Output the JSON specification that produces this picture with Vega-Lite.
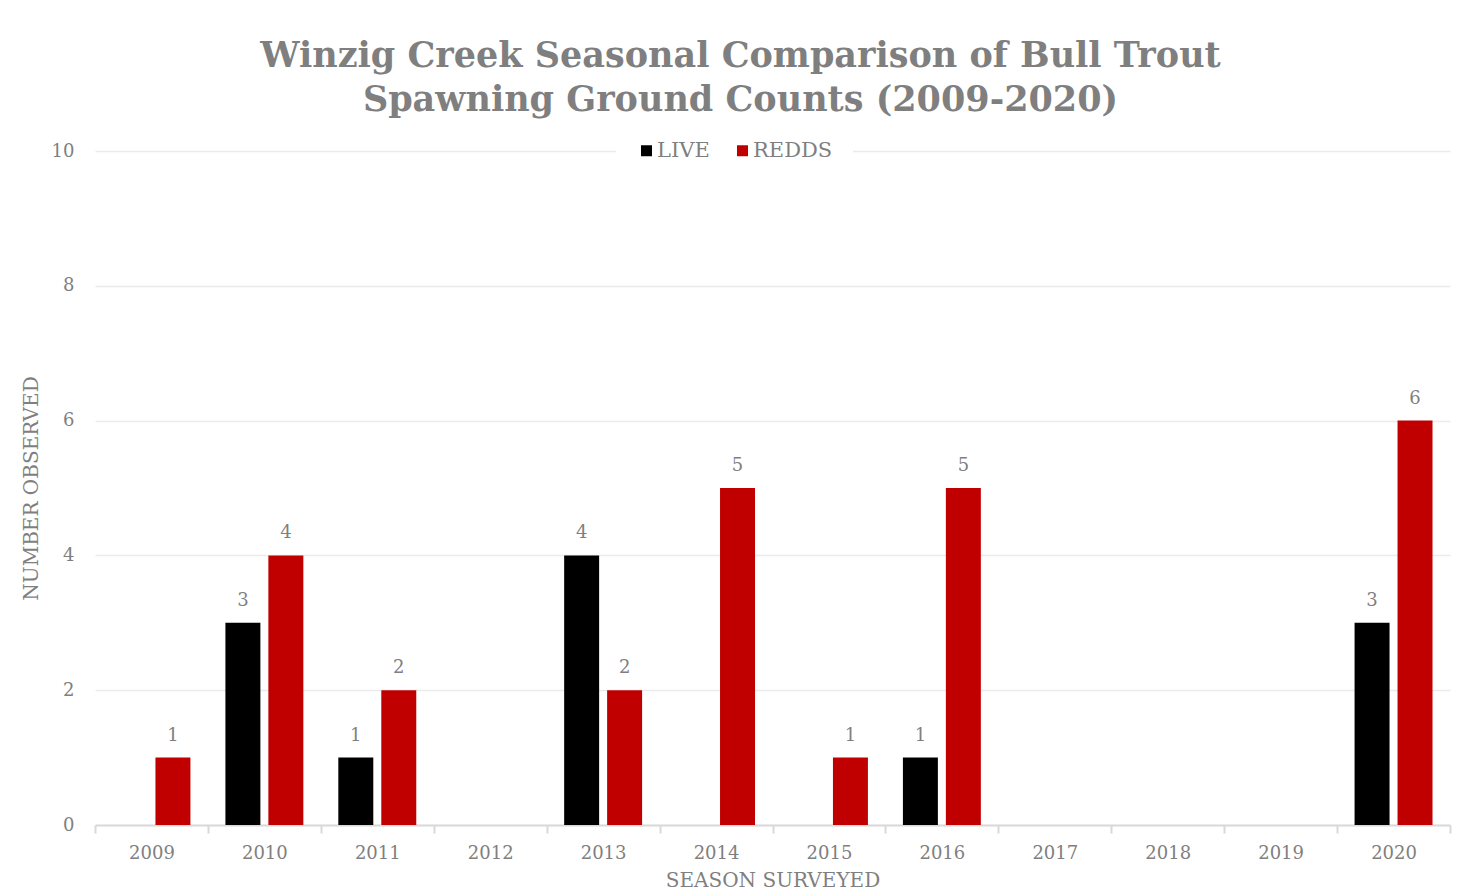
{
  "$schema": "https://vega.github.io/schema/vega-lite/v6.json",
  "width": 1355,
  "height": 674,
  "autosize": {"type": "none"},
  "padding": {"left": 95, "top": 151, "right": 31, "bottom": 67},
  "background": "white",
  "title": {
    "text": ["Winzig Creek Seasonal Comparison of Bull Trout", "Spawning Ground Counts (2009-2020)"],
    "font": "DejaVu Serif",
    "fontSize": 35,
    "fontWeight": "bold",
    "color": "#7f7f7f",
    "lineHeight": 44,
    "anchor": "middle",
    "frame": "group",
    "dx": -32,
    "offset": 2
  },
  "config": {
    "view": {"stroke": null},
    "font": "DejaVu Serif"
  },
  "data": {
    "values": [
      {"season": "2009", "type": "REDDS", "count": 1},
      {"season": "2010", "type": "LIVE", "count": 3},
      {"season": "2010", "type": "REDDS", "count": 4},
      {"season": "2011", "type": "LIVE", "count": 1},
      {"season": "2011", "type": "REDDS", "count": 2},
      {"season": "2013", "type": "LIVE", "count": 4},
      {"season": "2013", "type": "REDDS", "count": 2},
      {"season": "2014", "type": "REDDS", "count": 5},
      {"season": "2015", "type": "REDDS", "count": 1},
      {"season": "2016", "type": "LIVE", "count": 1},
      {"season": "2016", "type": "REDDS", "count": 5},
      {"season": "2020", "type": "LIVE", "count": 3},
      {"season": "2020", "type": "REDDS", "count": 6}
    ]
  },
  "encoding": {
    "x": {
      "field": "season",
      "type": "nominal",
      "title": "SEASON SURVEYED",
      "scale": {
        "domain": ["2009", "2010", "2011", "2012", "2013", "2014", "2015", "2016", "2017", "2018", "2019", "2020"],
        "paddingInner": 0,
        "paddingOuter": 0
      },
      "axis": {
        "labelAngle": 0,
        "labelFont": "DejaVu Serif",
        "labelFontSize": 18,
        "labelColor": "#7f7f7f",
        "labelPadding": 11,
        "tickBand": "extent",
        "tickSize": 8,
        "tickColor": "#d9d9d9",
        "tickWidth": 2,
        "domainColor": "#d9d9d9",
        "domainWidth": 2,
        "grid": false,
        "titleFont": "DejaVu Serif",
        "titleFontSize": 20,
        "titleFontWeight": "normal",
        "titleColor": "#7f7f7f",
        "titlePadding": 8
      }
    },
    "xOffset": {
      "field": "type",
      "scale": {"domain": ["LIVE", "REDDS"], "paddingInner": 0.186, "paddingOuter": 0.407}
    },
    "y": {
      "field": "count",
      "type": "quantitative",
      "title": "NUMBER OBSERVED",
      "scale": {"domain": [0, 10]},
      "axis": {
        "values": [0, 2, 4, 6, 8, 10],
        "domain": false,
        "ticks": false,
        "labelFont": "DejaVu Serif",
        "labelFontSize": 18,
        "labelColor": "#7f7f7f",
        "labelPadding": 21,
        "gridColor": "#ebebeb",
        "gridWidth": 1.5,
        "titleFont": "DejaVu Serif",
        "titleFontSize": 20,
        "titleFontWeight": "normal",
        "titleColor": "#7f7f7f",
        "titlePadding": 10
      }
    }
  },
  "layer": [
    {
      "mark": {"type": "bar"},
      "encoding": {
        "color": {
          "field": "type",
          "type": "nominal",
          "scale": {"domain": ["LIVE", "REDDS"], "range": ["#000000", "#c00000"]},
          "legend": {
            "title": null,
            "orient": "none",
            "direction": "horizontal",
            "legendX": 521,
            "legendY": -31,
            "padding": 20,
            "fillColor": "white",
            "symbolType": "square",
            "symbolSize": 121,
            "symbolStrokeWidth": 0,
            "labelFont": "DejaVu Serif",
            "labelFontSize": 21,
            "labelColor": "#7f7f7f",
            "labelOffset": 0,
            "columnPadding": 22
          }
        }
      }
    },
    {
      "mark": {
        "type": "text",
        "dy": -17,
        "baseline": "alphabetic",
        "font": "DejaVu Serif",
        "fontSize": 18,
        "color": "#7f7f7f"
      },
      "encoding": {
        "text": {"field": "count", "type": "quantitative"}
      }
    }
  ]
}
